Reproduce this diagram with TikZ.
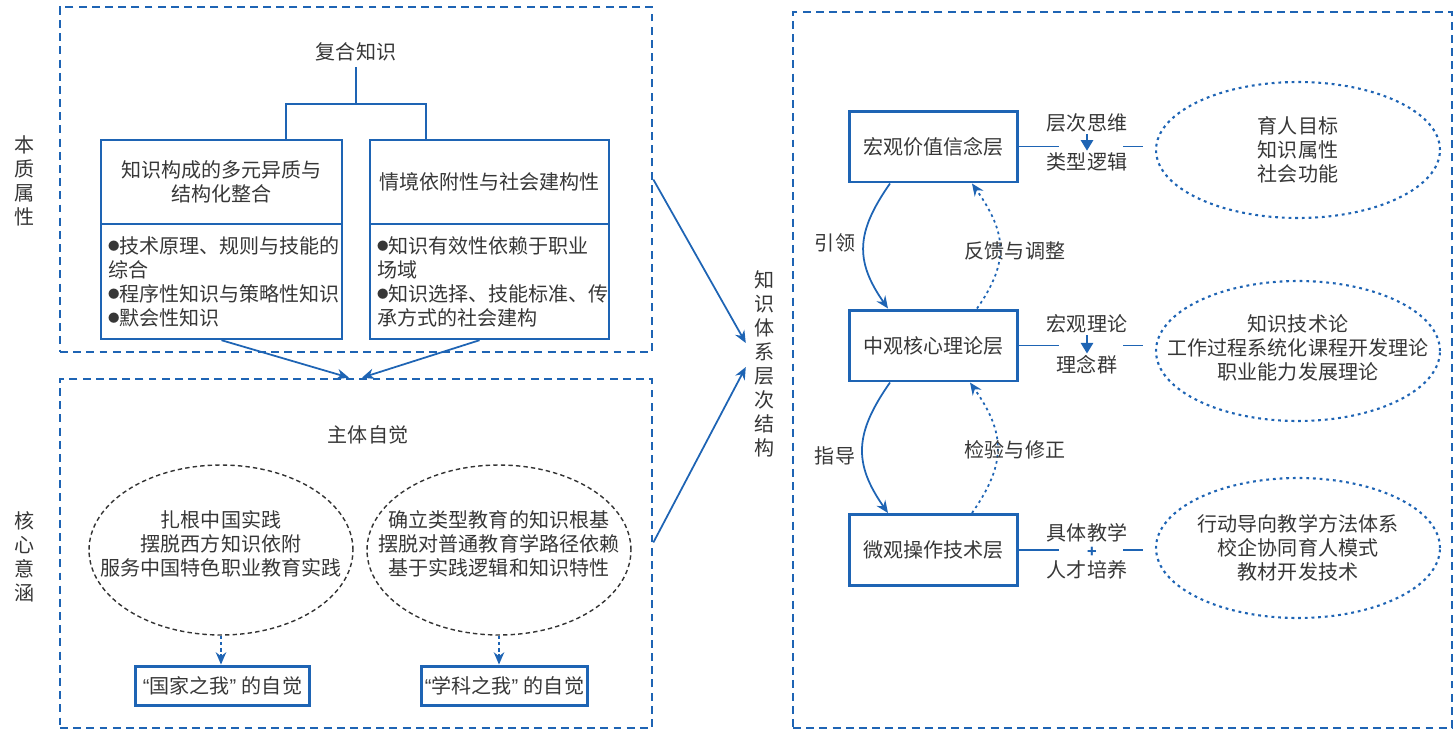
\documentclass[tikz,border=0pt]{standalone}
\usepackage{fontspec}
\setmainfont{Noto Sans CJK SC}
\newfontfamily\quotefont{Liberation Sans}
\usetikzlibrary{arrows.meta,shapes.geometric,positioning}
\definecolor{lnblue}{RGB}{30,100,180}
\definecolor{txtgray}{RGB}{55,55,55}
\newcommand{\blt}{\raisebox{1.6pt}{\fontsize{6.5}{6.5}\selectfont ●}}

\begin{document}
\begin{tikzpicture}[x=0.02cm,y=-0.02cm,
  every node/.style={font=\fontsize{11.4}{13.7}\selectfont,text=txtgray},
  area/.style={draw=lnblue,line width=1.6pt,dash pattern=on 4.5pt off 3pt},
  cbox/.style={draw=lnblue,line width=1.4pt,align=center,inner sep=0pt},
  layer/.style={draw=lnblue,line width=1.7pt,minimum width=3.38cm,minimum height=1.42cm},
  wire/.style={lnblue,line width=1pt},
  fback/.style={lnblue,line width=1pt,dash pattern=on 1.5pt off 2pt},
  dwire/.style={lnblue,line width=0.8pt,dash pattern=on 2pt off 1.5pt},
  ovalb/.style={ellipse,draw=lnblue,line width=1.2pt,dash pattern=on 1.6pt off 2.2pt,minimum width=5.68cm,minimum height=2.8cm},
  ovalk/.style={ellipse,draw=black!80,line width=0.8pt,dash pattern=on 2.5pt off 1.8pt,minimum width=5.28cm,minimum height=3.4cm},
  arr/.style={-{Stealth[length=7pt,width=6pt]}},
  tri/.style={-{Triangle[length=6pt,width=7pt]}},
  lbl/.style={inner sep=1pt}]
\useasboundingbox (0,0) rectangle (1455,735);

% essence part
\node[area,minimum width=11.84cm,minimum height=6.9cm] (benzhi) at (356,179.5) {};
\node[align=center] (bzlab) at (25,181) {本\\质\\属\\性};
\node (fuhe) at (356,52) {复合知识};
\node[cbox,minimum width=4.82cm,minimum height=1.68cm] (gouch) at (221.5,182) {知识构成的多元异质与\\结构化整合};
\node[cbox,minimum width=4.78cm,minimum height=1.68cm] (qingj) at (489.5,182) {情境依附性与社会建构性};
\node[cbox,text width=4.54cm,align=left,inner sep=0.14cm,minimum height=2.3cm] (bulL) at (221.5,281.5)
  {\blt 技术原理、规则与技能的\\综合\\\blt 程序性知识与策略性知识\\\blt 默会性知识};
\node[cbox,text width=4.5cm,align=left,inner sep=0.14cm,minimum height=2.3cm] (bulR) at (489.5,281.5)
  {\blt 知识有效性依赖于职业\\场域\\\blt 知识选择、技能标准、传\\承方式的社会建构};
\coordinate (brL) at (286,104);
\coordinate (brR) at (426,104);
\draw[wire,line width=1.4pt] (fuhe.south) -- (fuhe.south |- brL);
\draw[wire,line width=1.4pt] (brL |- gouch.north) -- (brL) -- (brR) -- (brR |- qingj.north);

% core meaning part
\node[area,minimum width=11.84cm,minimum height=6.98cm] (hexin) at (356,553.5) {};
\node[align=center] (hxlab) at (25,557) {核\\心\\意\\涵};
\node (zhuti) at (368,435) {主体自觉};
\node[ovalk] (ovL) at (221,550) {};
\node[align=center] (ovLt) at ([yshift=0.12cm]ovL) {扎根中国实践\\摆脱西方知识依附\\服务中国特色职业教育实践};
\node[ovalk] (ovR) at (499,550) {};
\node[align=center] (ovRt) at ([yshift=0.12cm]ovR) {确立类型教育的知识根基\\摆脱对普通教育学路径依赖\\基于实践逻辑和知识特性};
\node[cbox,line width=1.7pt,minimum width=3.5cm,minimum height=0.78cm] (guojia) at (222.5,685.5) {{\quotefont “}国家之我{\quotefont ” }的自觉};
\node[cbox,line width=1.7pt,minimum width=3.34cm,minimum height=0.78cm] (xueke) at (504.5,685.5) {{\quotefont “}学科之我{\quotefont ” }的自觉};
\draw[dwire,arr] (ovL.south) -- (ovL.south |- guojia.north);
\draw[dwire,arr] (ovR.south) -- (ovR.south |- xueke.north);
\draw[wire,arr] (bulL.south) -- ([xshift=-0.14cm]hexin.north);
\draw[wire,arr] ([xshift=-0.2cm]bulR.south) -- ([xshift=0.12cm]hexin.north);

% hierarchy
\node[align=center] (tixi) at (765,364) {知\\识\\体\\系\\层\\次\\结\\构};
\draw[wire,arr] (benzhi.east) -- ([xshift=-0.06cm,yshift=0.42cm]tixi.west);
\draw[wire,arr] ([yshift=0.22cm]hexin.east) -- ([xshift=-0.06cm,yshift=-0.06cm]tixi.west);

\node[area,minimum width=13.18cm,minimum height=14.32cm] (jiegou) at (1122.5,370) {};
\node[layer] (hong) at (933.5,146.5) {宏观价值信念层};
\node[layer] (zhong) at (933.5,345.5) {中观核心理论层};
\node[layer] (wei) at (933.5,550) {微观操作技术层};

\node[ovalb,minimum height=2.72cm] (ov1) at (1298,150) {};
\node[align=center] (ov1t) at (ov1) {育人目标\\知识属性\\社会功能};
\node[ovalb] (ov2) at (1298,351) {};
\node[align=center] (ov2t) at ([yshift=0.06cm]ov2) {知识技术论\\工作过程系统化课程开发理论\\职业能力发展理论};
\node[ovalb] (ov3) at (1298,548) {};
\node[align=center] (ov3t) at (ov3) {行动导向教学方法体系\\校企协同育人模式\\教材开发技术};

% links to ovals
\coordinate (g1a) at (1059,146.5);
\coordinate (g1b) at (1123,146.5);
\draw[wire] (hong.east) -- (g1a);
\draw[wire,shorten >=0.24cm] (g1b) -- (g1b -| ov1.west);
\node[lbl] (cc1) at (1087,123) {层次思维};
\node[lbl] (lj1) at (1087,162) {类型逻辑};
\draw[wire,tri] (cc1.south) -- (lj1.north);

\coordinate (g2a) at (1059,345.5);
\coordinate (g2b) at (1123,345.5);
\draw[wire] (zhong.east) -- (g2a);
\draw[wire,shorten >=0.24cm] (g2b) -- (g2b -| ov2.west);
\node[lbl] (hg2) at (1087,324) {宏观理论};
\node[lbl] (ln2) at (1087,365) {理念群};
\draw[wire,tri] (hg2.south) -- (ln2.north);

\coordinate (g3a) at (1059,550);
\coordinate (g3b) at (1123,550);
\draw[wire] (wei.east) -- (g3a);
\draw[wire,shorten >=0.24cm] (g3b) -- (g3b -| ov3.west);
\node[lbl] (jt3) at (1087,533) {具体教学};
\node[inner sep=0pt,text=lnblue,font=\fontsize{9}{9}\selectfont\bfseries] (plus3) at (1092,552) {+};
\node[lbl] (rc3) at (1087,570) {人才培养};

% between layers
\draw[wire,arr] ([xshift=-0.87cm]hong.south) to[out=235,in=125,looseness=1.2] ([xshift=-0.91cm]zhong.north);
\draw[fback,arr] ([xshift=0.87cm]zhong.north) to[out=55,in=-55,looseness=1.2] ([xshift=0.77cm]hong.south);
\draw[wire,arr] ([xshift=-0.87cm]zhong.south) to[out=235,in=125,looseness=1.2] ([xshift=-0.91cm]wei.north);
\draw[fback,arr] ([xshift=0.77cm]wei.north) to[out=55,in=-55,looseness=1.2] ([xshift=0.73cm]zhong.south);
\node (yl) at (835,243) {引领};
\node (fk) at (1015,251) {反馈与调整};
\node (zd) at (835,456) {指导};
\node (jy) at (1015,450) {检验与修正};
\end{tikzpicture}
\end{document}
